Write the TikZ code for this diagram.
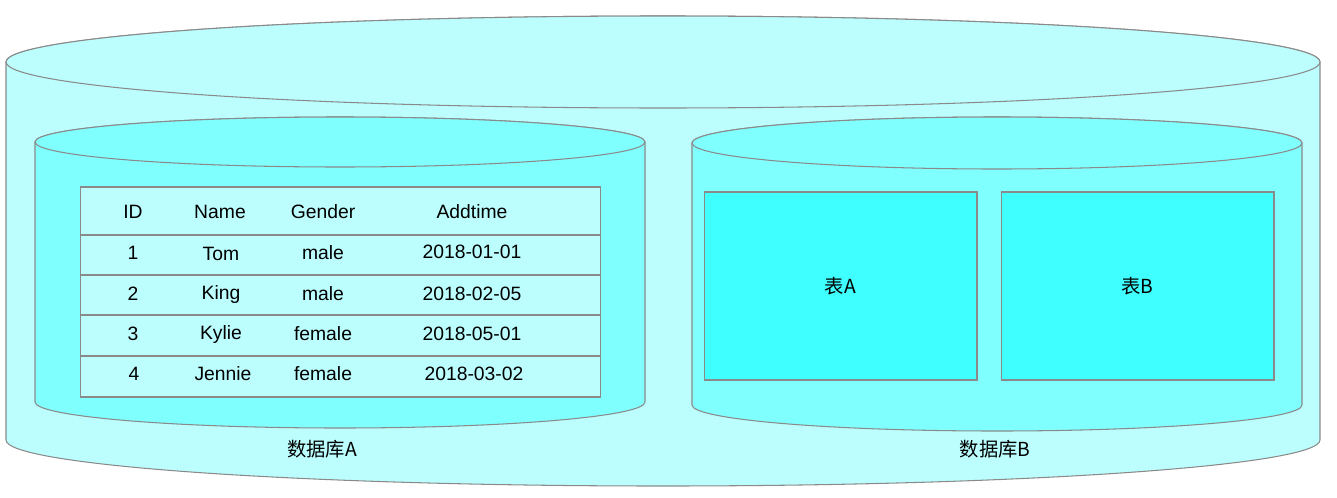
\documentclass[tikz,border=0pt]{standalone}
\usepackage{fontspec}
\setmainfont{Liberation Sans}
\newfontfamily\cjk{Noto Sans CJK SC}
\usetikzlibrary{positioning, calc}

\definecolor{outerfill}{HTML}{BCFEFE}
\definecolor{dbfill}{HTML}{80FFFF}
\definecolor{tabfill}{HTML}{40FFFF}
\definecolor{edgegray}{HTML}{8A8A8A}

\begin{document}
\begin{tikzpicture}[
  x=0.02cm, y=-0.02cm,
  font=\fontsize{11}{13}\selectfont,
  cylbody/.style = {draw=edgegray, line width=0.6pt},
  tablebox/.style = {draw=edgegray, line width=0.6pt, inner sep=0pt},
  cell/.style = {inner sep=1pt}
]
  \useasboundingbox (0,0) rectangle (1337,497);

  % Outer cylinder
  \path[cylbody, fill=outerfill]
    (6,62) -- (6,440)
      arc[start angle=180, end angle=0, x radius=657, y radius=46]
      -- (1320,62)
      arc[start angle=360, end angle=180, x radius=657, y radius=46]
      -- cycle
  ;
  \path[cylbody, fill=outerfill] (663,62) ellipse [x radius=657, y radius=46];

  % Database A
  \path[cylbody, fill=dbfill]
    (35,142) -- (35,402)
      arc[start angle=180, end angle=0, x radius=305, y radius=26]
      -- (645,142)
      arc[start angle=360, end angle=180, x radius=305, y radius=25]
      -- cycle
  ;
  \path[cylbody, fill=dbfill] (340,142) ellipse [x radius=305, y radius=25];

  % Database B
  \path[cylbody, fill=dbfill]
    (692,143) -- (692,405)
      arc[start angle=180, end angle=0, x radius=305, y radius=26]
      -- (1302,143)
      arc[start angle=360, end angle=180, x radius=305, y radius=26]
      -- cycle
  ;
  \path[cylbody, fill=dbfill] (997,143) ellipse [x radius=305, y radius=26];

  % The data table in database A
  \node[tablebox, fill=outerfill, minimum width=10.42cm, minimum height=4.2cm] (tbl) at (340.5,292) {};
  \path[draw=edgegray, line width=0.6pt]
    (tbl.west |- 0,235) -- (tbl.east |- 0,235)
    (tbl.west |- 0,275) -- (tbl.east |- 0,275)
    (tbl.west |- 0,315) -- (tbl.east |- 0,315)
    (tbl.west |- 0,356) -- (tbl.east |- 0,356)
  ;

  \node[cell] (h_id) at (133,212) {ID};
  \node[cell] (h_name) at (220,212) {Name};
  \node[cell] (h_gender) at (323,212) {Gender};
  \node[cell] (h_time) at (472,212) {Addtime};

  \node[cell] (r1_id) at (133,253) {1};
  \node[cell] (r1_name) at (221,254) {Tom};
  \node[cell] (r1_gender) at (323,253) {male};
  \node[cell] (r1_time) at (472,252) {2018-01-01};

  \node[cell] (r2_id) at (133,294) {2};
  \node[cell] (r2_name) at (221,294) {King};
  \node[cell] (r2_gender) at (323,294) {male};
  \node[cell] (r2_time) at (472,294) {2018-02-05};

  \node[cell] (r3_id) at (133,334) {3};
  \node[cell] (r3_name) at (221,334) {Kylie};
  \node[cell] (r3_gender) at (323,334) {female};
  \node[cell] (r3_time) at (472,334) {2018-05-01};

  \node[cell] (r4_id) at (134,374) {4};
  \node[cell] (r4_name) at (223,374) {Jennie};
  \node[cell] (r4_gender) at (323,374) {female};
  \node[cell] (r4_time) at (474,374) {2018-03-02};

  % The two tables in database B
  \node[tablebox, fill=tabfill, minimum width=5.46cm, minimum height=3.76cm] (tab_a) at (840.5,286) {\cjk 表A};
  \node[tablebox, fill=tabfill, minimum width=5.46cm, minimum height=3.76cm] (tab_b) [right=0.46cm of tab_a] {\cjk 表B};

  % Database labels
  \node (lbl_a) at (322,449) {\cjk 数据库A};
  \node (lbl_b) at (995,449) {\cjk 数据库B};
\end{tikzpicture}
\end{document}
